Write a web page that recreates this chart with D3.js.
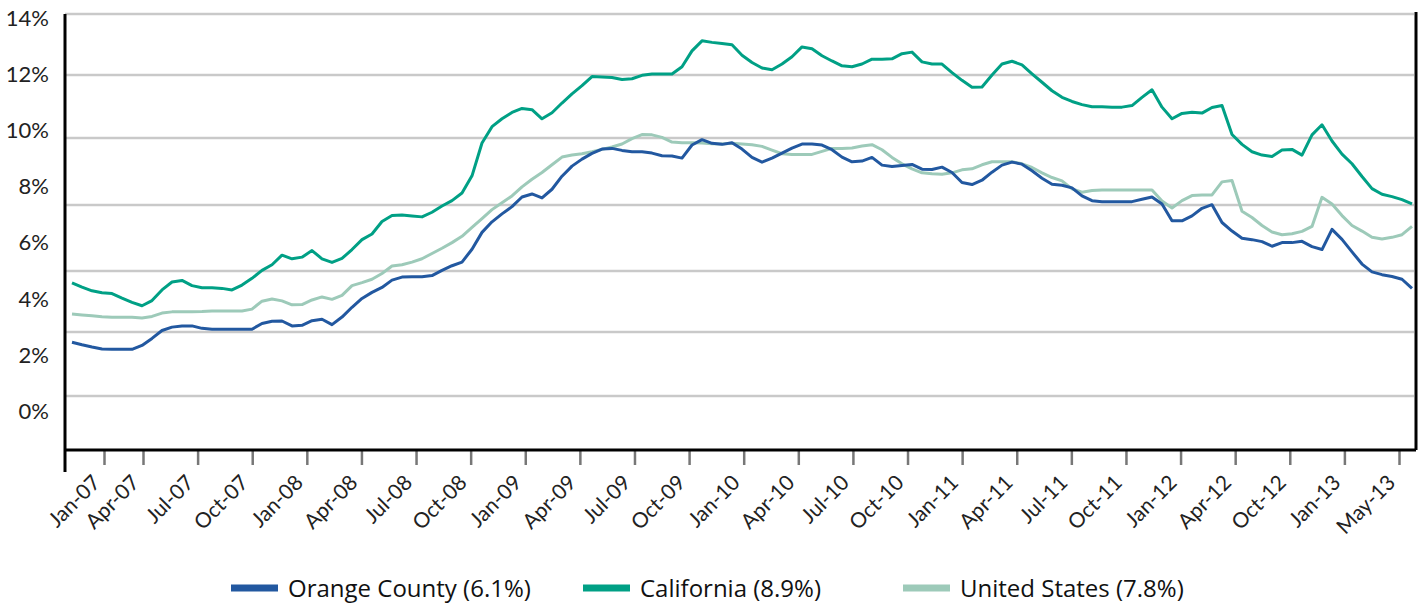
<!DOCTYPE html>
<html>
<head>
<meta charset="utf-8">
<script src="https://cdn.jsdelivr.net/npm/d3@7/dist/d3.min.js"></script>
<style>
  body { margin: 0; background: #fff; }
  svg { display: block; }
</style>
</head>
<body>
<svg id="chart"></svg>
<script>
// quarter labels along the bottom axis
const tickLabels = [
  "Jan-07", "Apr-07", "Jul-07", "Oct-07", "Jan-08", "Apr-08", "Jul-08", "Oct-08",
  "Jan-09", "Apr-09", "Jul-09", "Oct-09", "Jan-10", "Apr-10", "Jul-10", "Oct-10",
  "Jan-11", "Apr-11", "Jul-11", "Oct-11", "Jan-12", "Apr-12", "Oct-12", "Jan-13",
  "May-13",
];

// percent gridlines
const yTicks = [0, 2, 4, 6, 8, 10, 12, 14];

// unemployment rate (%), evenly sampled from Jan-07 to mid-2013
const orangeCounty = [
  3.68, 3.60, 3.53, 3.47, 3.46, 3.46, 3.46, 3.58, 3.80, 4.05,
  4.16, 4.20, 4.20, 4.12, 4.09, 4.09, 4.09, 4.09, 4.09, 4.28,
  4.35, 4.36, 4.20, 4.22, 4.37, 4.42, 4.24, 4.49, 4.81, 5.10,
  5.30, 5.46, 5.70, 5.80, 5.81, 5.81, 5.85, 6.02, 6.16, 6.27,
  6.66, 7.17, 7.49, 7.73, 7.95, 8.24, 8.33, 8.21, 8.47, 8.86,
  9.16, 9.37, 9.54, 9.67, 9.69, 9.63, 9.59, 9.59, 9.55, 9.47,
  9.46, 9.40, 9.79, 9.95, 9.84, 9.81, 9.86, 9.67, 9.42, 9.28,
  9.40, 9.55, 9.70, 9.82, 9.82, 9.79, 9.65, 9.43, 9.29, 9.31,
  9.42, 9.19, 9.15, 9.18, 9.21, 9.07, 9.06, 9.13, 8.97, 8.67,
  8.61, 8.74, 8.98, 9.19, 9.28, 9.22, 9.02, 8.80, 8.62, 8.59,
  8.51, 8.27, 8.13, 8.10, 8.10, 8.10, 8.10, 8.17, 8.24, 8.03,
  7.52, 7.52, 7.67, 7.90, 8.01, 7.47, 7.21, 6.99, 6.95, 6.89,
  6.75, 6.86, 6.86, 6.90, 6.74, 6.65, 7.26, 6.96, 6.58, 6.21,
  5.97, 5.88, 5.82, 5.73, 5.43,
];

const california = [
  5.61, 5.47, 5.35, 5.29, 5.26, 5.11, 4.97, 4.86, 5.03, 5.38,
  5.64, 5.69, 5.52, 5.45, 5.45, 5.43, 5.38, 5.54, 5.76, 6.02,
  6.19, 6.48, 6.37, 6.42, 6.62, 6.37, 6.26, 6.38, 6.65, 6.95,
  7.12, 7.50, 7.68, 7.70, 7.67, 7.64, 7.78, 7.97, 8.13, 8.36,
  8.87, 9.85, 10.36, 10.61, 10.81, 10.94, 10.90, 10.61, 10.80, 11.11,
  11.40, 11.66, 11.95, 11.94, 11.92, 11.86, 11.88, 11.99, 12.03, 12.03,
  12.03, 12.27, 12.79, 13.12, 13.07, 13.03, 12.99, 12.65, 12.41, 12.23,
  12.17, 12.36, 12.60, 12.92, 12.86, 12.63, 12.46, 12.30, 12.27, 12.36,
  12.52, 12.52, 12.53, 12.70, 12.75, 12.43, 12.36, 12.36, 12.08, 11.83,
  11.61, 11.62, 12.00, 12.36, 12.45, 12.33, 12.04, 11.77, 11.50, 11.29,
  11.16, 11.06, 10.99, 10.99, 10.98, 10.98, 11.03, 11.29, 11.53, 10.98,
  10.61, 10.78, 10.82, 10.79, 10.97, 11.03, 10.11, 9.81, 9.59, 9.49,
  9.45, 9.64, 9.66, 9.49, 10.10, 10.42, 9.91, 9.52, 9.23, 8.85,
  8.49, 8.32, 8.25, 8.16, 8.03,
];

const unitedStates = [
  4.59, 4.56, 4.53, 4.50, 4.48, 4.48, 4.48, 4.46, 4.51, 4.62,
  4.66, 4.66, 4.66, 4.67, 4.69, 4.69, 4.69, 4.69, 4.75, 5.01,
  5.08, 5.02, 4.89, 4.90, 5.05, 5.15, 5.07, 5.20, 5.52, 5.62,
  5.73, 5.92, 6.15, 6.19, 6.27, 6.37, 6.53, 6.69, 6.86, 7.05,
  7.32, 7.59, 7.86, 8.07, 8.27, 8.54, 8.77, 8.97, 9.20, 9.43,
  9.49, 9.53, 9.59, 9.66, 9.73, 9.82, 9.98, 10.11, 10.10, 10.02,
  9.88, 9.86, 9.86, 9.85, 9.83, 9.82, 9.84, 9.82, 9.80, 9.75,
  9.64, 9.53, 9.51, 9.51, 9.51, 9.60, 9.69, 9.69, 9.70, 9.76,
  9.80, 9.65, 9.42, 9.23, 9.08, 8.96, 8.93, 8.92, 8.96, 9.05,
  9.08, 9.20, 9.29, 9.29, 9.29, 9.23, 9.12, 8.96, 8.82, 8.72,
  8.48, 8.38, 8.43, 8.45, 8.45, 8.45, 8.45, 8.45, 8.45, 8.12,
  7.91, 8.13, 8.28, 8.30, 8.30, 8.69, 8.73, 7.81, 7.62, 7.38,
  7.18, 7.10, 7.13, 7.20, 7.35, 8.23, 8.03, 7.68, 7.38, 7.21,
  7.02, 6.97, 7.02, 7.10, 7.35,
];

const seriesNames = ["Orange County (6.1%)", "California (8.9%)", "United States (7.8%)"];

const width = 1422;
const height = 606;
const margin = { top: 14, right: 6, bottom: 157, left: 65 };

const colors = {
  oc: "#2258a0",
  ca: "#00a085",
  us: "#9dcab9",
};

const svg = d3
  .select("#chart")
  .attr("width", width)
  .attr("height", height)
  .attr("viewBox", [0, 0, width, height]);

const plotBottom = height - margin.bottom;
const plotRight = width - margin.right;

// the gridlines in the source are not evenly spaced, so map each step
const y = d3
  .scaleLinear()
  .domain(yTicks)
  .range([plotBottom, 396, 332, 271, 205, 138, 75, margin.top]);

// the percent labels sit on their own, evenly spaced
const yLabel = d3.scaleLinear().domain([0, 14]).range([411, 18]);

// series points are evenly spread over the plot
const x = d3
  .scaleLinear()
  .domain([0, california.length - 1])
  .range([margin.left + 7, plotRight - 4]);

// quarter ticks (the first interval is shorter in the source)
const xTick = d3
  .scaleLinear()
  .domain([0, 1, tickLabels.length - 1])
  .range([margin.left + 39, margin.left + 78, plotRight - 17]);

// gridlines
svg
  .append("g")
  .attr("stroke", "#c9c9c9")
  .attr("stroke-width", 2.5)
  .selectAll("line")
  .data(yTicks.filter((d) => d > 0))
  .join("line")
  .attr("x1", margin.left)
  .attr("x2", plotRight - 2)
  .attr("y1", (d) => y(d))
  .attr("y2", (d) => y(d));

// y labels
svg
  .append("g")
  .attr("font-family", "Lato, 'DejaVu Sans', sans-serif")
  .attr("font-size", 22)
  .attr("fill", "#222")
  .attr("text-anchor", "end")
  .selectAll("text")
  .data(yTicks)
  .join("text")
  .attr("x", 49)
  .attr("y", (d) => yLabel(d))
  .attr("dy", "0.36em")
  .text((d) => d + "%");

// x axis ticks and labels
const xAxis = svg
  .append("g")
  .attr("transform", `translate(0 ${plotBottom + 1})`)
  .call(
    d3
      .axisBottom(xTick)
      .tickValues(d3.range(tickLabels.length))
      .tickFormat((i) => tickLabels[i])
      .tickSize(15)
      .tickSizeOuter(0)
  );
xAxis.select(".domain").remove();
xAxis.selectAll(".tick line").attr("stroke", "#777").attr("stroke-width", 2.5);
xAxis
  .selectAll(".tick text")
  .attr("font-family", "Lato, 'DejaVu Sans', sans-serif")
  .attr("font-size", 21)
  .attr("fill", "#222")
  .attr("text-anchor", "end")
  .attr("x", null)
  .attr("y", null)
  .attr("dy", null)
  .attr("transform", "translate(-3 34) rotate(-45)");

// the series lines
const line = d3
  .line()
  .x((d, i) => x(i))
  .y((d) => y(d));

const series = [
  { values: unitedStates, color: colors.us },
  { values: california, color: colors.ca },
  { values: orangeCounty, color: colors.oc },
];

svg
  .append("g")
  .attr("fill", "none")
  .attr("stroke-width", 3)
  .attr("stroke-linejoin", "round")
  .selectAll("path")
  .data(series)
  .join("path")
  .attr("stroke", (d) => d.color)
  .attr("d", (d) => line(d.values));

// axis frame: left (runs past the bottom), bottom and right
const frame = svg.append("g").attr("stroke", "#000").attr("stroke-width", 3);
frame
  .append("line")
  .attr("x1", margin.left)
  .attr("x2", margin.left)
  .attr("y1", margin.top)
  .attr("y2", plotBottom + 23);
frame
  .append("line")
  .attr("x1", margin.left)
  .attr("x2", plotRight)
  .attr("y1", plotBottom + 1)
  .attr("y2", plotBottom + 1);
frame
  .append("line")
  .attr("x1", plotRight)
  .attr("x2", plotRight)
  .attr("y1", margin.top - 2)
  .attr("y2", plotBottom + 1);

// legend
const legendX = [231, 583, 903];
const legendColors = [colors.oc, colors.ca, colors.us];
const legend = svg
  .append("g")
  .selectAll("g")
  .data(seriesNames)
  .join("g")
  .attr("transform", (d, i) => `translate(${legendX[i]} 588)`);

legend
  .append("rect")
  .attr("x", 0)
  .attr("y", -3.5)
  .attr("width", 47)
  .attr("height", 7)
  .attr("fill", (d, i) => legendColors[i]);

legend
  .append("text")
  .attr("x", 57)
  .attr("y", 9)
  .attr("font-family", "'Open Sans', sans-serif")
  .attr("font-size", 24)
  .attr("fill", "#111")
  .text((d) => d);
</script>
</body>
</html>
